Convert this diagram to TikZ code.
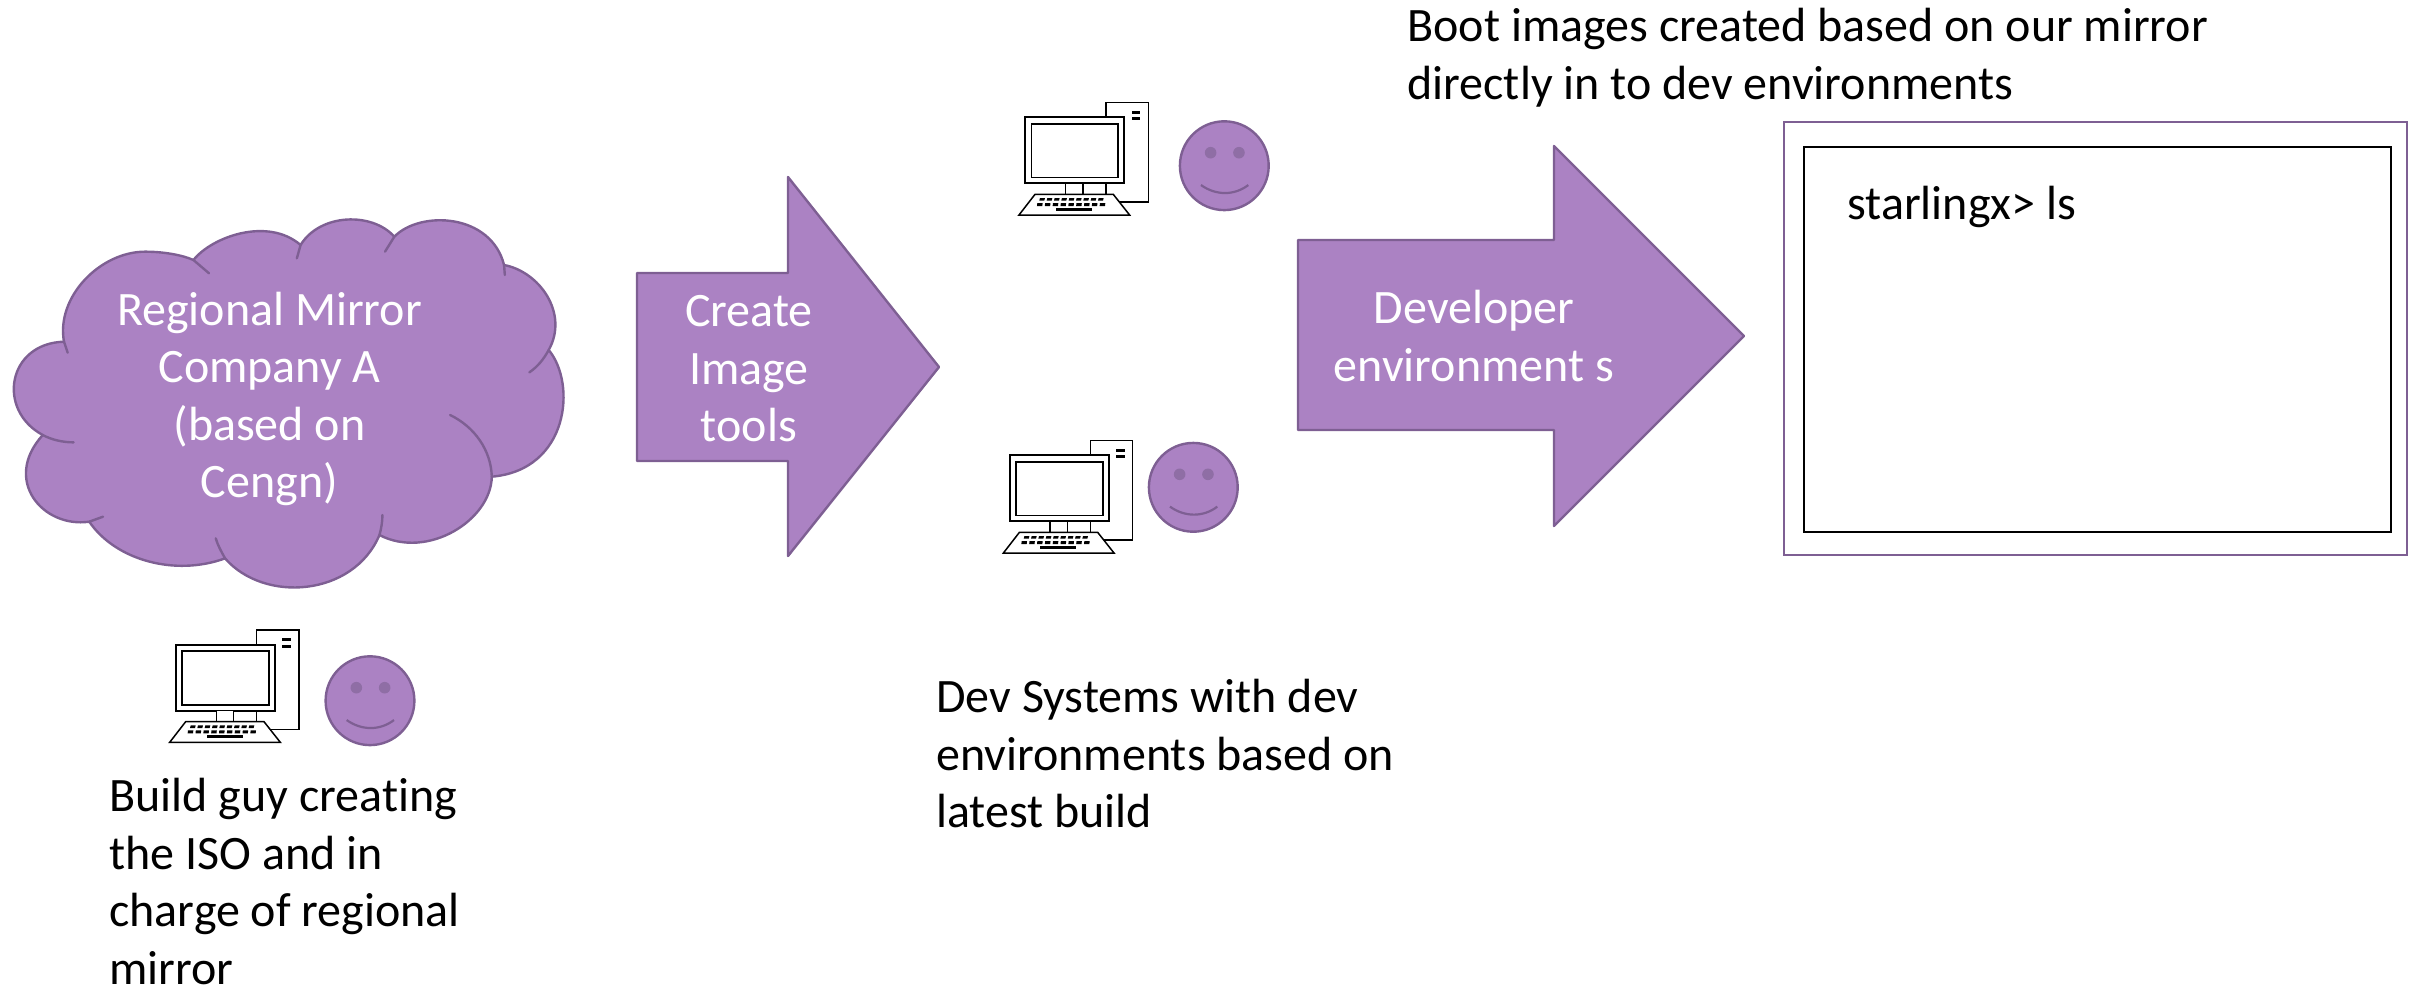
\documentclass[tikz,border=0pt]{standalone}
\usepackage{fontspec}
\setmainfont[RawFeature={-liga}]{Carlito}
\definecolor{pf}{HTML}{AB82C3}
\definecolor{pd}{HTML}{7E5F93}
\definecolor{pe}{HTML}{8F6EA5}
\tikzset{
  x=0.5pt,y=-0.5pt,
  shapefill/.style={fill=pf,draw=pd,line width=1.2pt,line join=round},
  lab/.style={font=\fontsize{24}{28.75}\selectfont,inner sep=0pt,align=left,anchor=north west,text=black},
  wlab/.style={font=\fontsize{24}{28.75}\selectfont,inner sep=0pt,align=center,text=white},
  pcline/.style={draw=black,fill=white,line join=miter},
  computer/.pic={
    \begin{scope}[x=0.16667pt,y=-0.16667pt]
    \path[pcline,line width=0.75pt] (320,60) rectangle (447,358);
    \fill (397,85) rectangle (423,94);
    \fill (397,104) rectangle (423,113);
    \path[pcline,line width=1.05pt] (78,104) rectangle (375,302);
    \path[pcline,line width=0.85pt] (97,124) rectangle (357,284);
    \path[pcline,line width=0.75pt] (199,302) rectangle (251,335);
    \path[pcline,line width=0.75pt] (107,335) -- (342,335) -- (391,397) -- (59,397) -- cycle;
    \foreach \i in {0,...,8}{
      \fill ({122+\i*22},346) -- ++(15,0) -- ++(-2,8) -- ++(-15,0) -- cycle;
      \fill ({114+\i*23.5},361) -- ++(16,0) -- ++(-1,9) -- ++(-16,0) -- cycle;
    }
    \fill (170,376) rectangle (278,384);
    \end{scope}
  },
  smiley/.pic={
    \begin{scope}[x=0.16667pt,y=-0.16667pt]
    \path[shapefill] (0,0) circle[radius=22.2pt];
    \fill[pe] (-41,-39) circle[radius=2.9pt];
    \fill[pe] (44,-39) circle[radius=2.9pt];
    \draw[pd,line width=1.1pt] (-70,58) .. controls (-25,90) and (30,90) .. (72,58);
    \end{scope}
  }
}
\begin{document}
\begin{tikzpicture}
\useasboundingbox (0,0) rectangle (2417,987);
% cloud
\begin{scope}[x=0.186pt,y=-0.16667pt,yshift=-100pt]
\path[shapefill] (172,425)
  .. controls (150,290) and (270,155) .. (390,155)
  .. controls (440,155) and (490,165) .. (520,180)
  .. controls (570,110) and (720,50) .. (808,135)
  .. controls (860,40) and (1000,35) .. (1060,110)
  .. controls (1130,30) and (1320,40) .. (1355,195)
  .. controls (1450,215) and (1530,340) .. (1475,450)
  .. controls (1550,550) and (1530,810) .. (1322,830)
  .. controls (1320,960) and (1150,1080) .. (1020,1005)
  .. controls (950,1190) and (710,1210) .. (605,1075)
  .. controls (470,1130) and (310,1080) .. (240,965)
  .. controls (115,985) and (5,840) .. (115,705)
  .. controls (-10,630) and (20,430) .. (172,425) -- cycle;
\draw[pd,line width=1.2pt,line cap=round]
  (172,425) -- (182,458)
  (520,180) -- (562,220)
  (808,135) -- (798,175)
  (1060,110) -- (1035,155)
  (1355,195) -- (1357,225)
  (1475,450) .. controls (1460,480) and (1445,500) .. (1423,517)
  (1322,830) .. controls (1320,750) and (1275,680) .. (1210,645)
  (1020,1005) .. controls (1025,985) and (1028,965) .. (1028,945)
  (605,1075) .. controls (595,1055) and (585,1035) .. (580,1015)
  (240,965) -- (277,950)
  (115,705) .. controls (140,720) and (170,727) .. (198,727);
\end{scope}
\node[wlab] (cloudtext) at (269.5,399) {Regional Mirror\\Company A\\(based on\\Cengn)};
% arrows
\path[shapefill] (637,273) -- (788,273) -- (788,177) -- (939,367) -- (788,556) -- (788,461) -- (637,461) -- cycle;
\node[wlab] (create) at (749,369) {Create\\Image\\tools};
\path[shapefill] (1298,240) -- (1554,240) -- (1554,146) -- (1744,336) -- (1554,526) -- (1554,430) -- (1298,430) -- cycle;
\node[wlab] (devenv) at (1474,336) {Developer\\environment s};
% terminal
\draw[pd,line width=1.2pt] (1784,122) rectangle (2407,555);
\draw[black,line width=1.4pt] (1804,147) rectangle (2391,532);
\node[lab] (prompt) at (1847,186) {starlingx> ls};
% computers and faces
\pic at (150,610) {computer};
\pic at (370,700.7) {smiley};
\pic at (999.3,82.7) {computer};
\pic at (1224.3,165.7) {smiley};
\pic at (983.7,420.7) {computer};
\pic at (1193.3,487.3) {smiley};
% labels
\node[lab] (top) at (1407,8) {Boot images created based on our mirror\\directly in to dev environments};
\node[lab] (dev) at (936,679) {Dev Systems with dev\\environments based on\\latest build};
\node[lab] (build) at (109,778) {Build guy creating\\the ISO and in\\charge of regional\\mirror};
\end{tikzpicture}
\end{document}
